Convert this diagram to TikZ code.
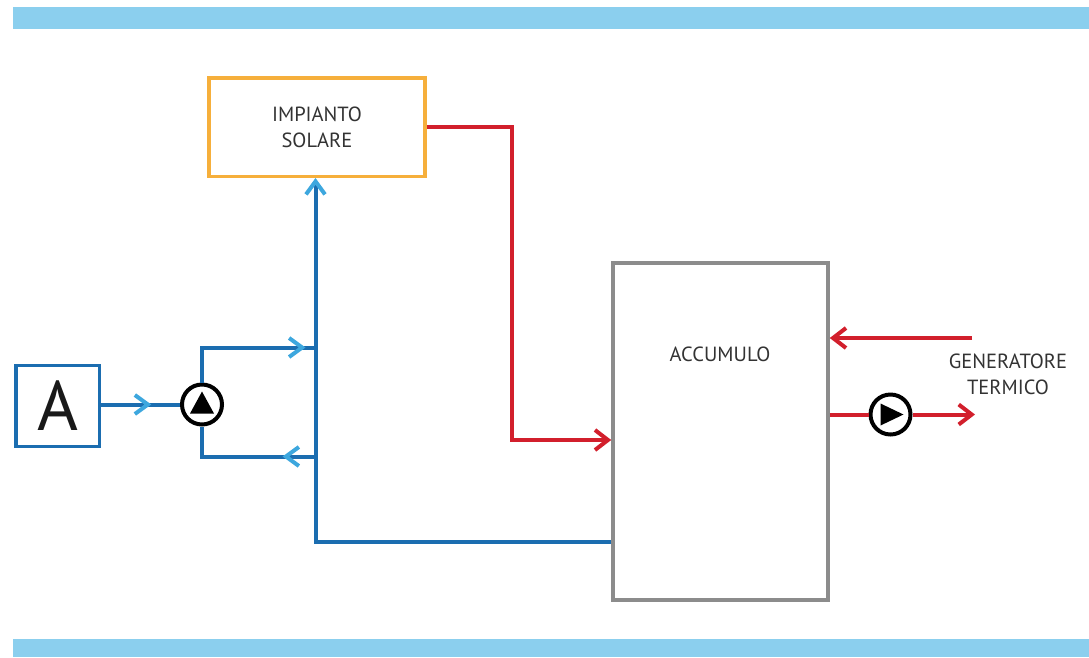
\documentclass[tikz,border=0pt]{standalone}
\usepackage{fontspec}
\setmainfont{PT Sans}
\usetikzlibrary{arrows.meta,decorations.markings}
\definecolor{barblue}{HTML}{8BCFEE}
\definecolor{pipeblue}{HTML}{1B6DB0}
\definecolor{chevblue}{HTML}{3DA7DE}
\definecolor{pipered}{HTML}{D21F2C}
\definecolor{solarorange}{HTML}{F6AF3B}
\definecolor{tankgrey}{HTML}{8C8C8C}
\definecolor{txtgrey}{HTML}{333333}
\begin{document}
\begin{tikzpicture}[x=1pt,y=-1pt,
 box/.style={draw,line width=3.5pt,inner sep=0pt},
 txt/.style={font=\fontsize{20.5}{26}\selectfont,text=txtgrey,align=center},
 bpipe/.style={draw=pipeblue,line width=4pt},
 rpipe/.style={draw=pipered,line width=4pt},
 pump/.style={circle,draw=black,line width=4pt,minimum size=40pt,inner sep=0pt,fill=white},
 chevb/.tip={Straight Barb[length=13pt,width=19pt,color=chevblue]},
 chevr/.tip={Straight Barb[length=13pt,width=20pt]},
 midchev/.style={postaction={decorate},decoration={markings,mark=at position #1 with {\arrow{chevb}}}}]
 \useasboundingbox (0,0) rectangle (1089,657);
 \fill[barblue] (13,7) rectangle (1089,29);
 \fill[barblue] (13,639) rectangle (1089,657);

 \node[box,draw=solarorange,minimum width=216pt,minimum height=98.5pt,txt] (sol) at (317,127) {IMPIANTO\\SOLARE};
 \node[box,draw=tankgrey,minimum width=215pt,minimum height=337pt] (acc) at (720.5,431.5) {};
 \node[txt] (acclab) at (720,354) {ACCUMULO};
 \node[box,draw=pipeblue,minimum width=83.5pt,minimum height=81pt,font=\fontsize{70}{70}\selectfont,text={black!90}] (a) at (57.75,406) {A};
 \node[pump] (p1) at (202,404.5) {};
 \node[pump] (p2) at (890.5,414.5) {};
 \node[txt] (gen) at (1008,374.5) {GENERATORE\\TERMICO};
 \coordinate (jt) at (315.5,347.5);
 \coordinate (jb) at (315.5,456.5);
 \coordinate (bend) at (315.5,541.5);
 \coordinate (rbend) at (511.5,127);
 \coordinate (gin) at (972,338);
 \coordinate (gout) at (975,414.5);

 \draw[bpipe,midchev=50pt] (a.east |- p1) -- (p1.west);
 \draw[bpipe,midchev=-10pt] (p1.north) |- (jt);
 \draw[bpipe,midchev=33pt] (jb) -| (p1.south);
 \draw[bpipe,-chevb] (bend -| acc.west) -- (bend) -- (bend |- sol.south);
 \fill[shift={(p1.center)}] (0,-13) -- (12,9) -- (-12,9) -- cycle;

 \draw[rpipe,-chevr] (sol.east |- rbend) -- (rbend) |- (acc.west |- 0,440);
 \draw[rpipe,-chevr] (gin) -- (gin -| acc.east);
 \draw[rpipe] (acc.east |- p2) -- (p2.west);
 \draw[rpipe,-chevr] (p2.east) -- (gout);
 \fill[shift={(p2.center)}] (-10,-11) -- (13,0) -- (-10,11) -- cycle;
\end{tikzpicture}
\end{document}
